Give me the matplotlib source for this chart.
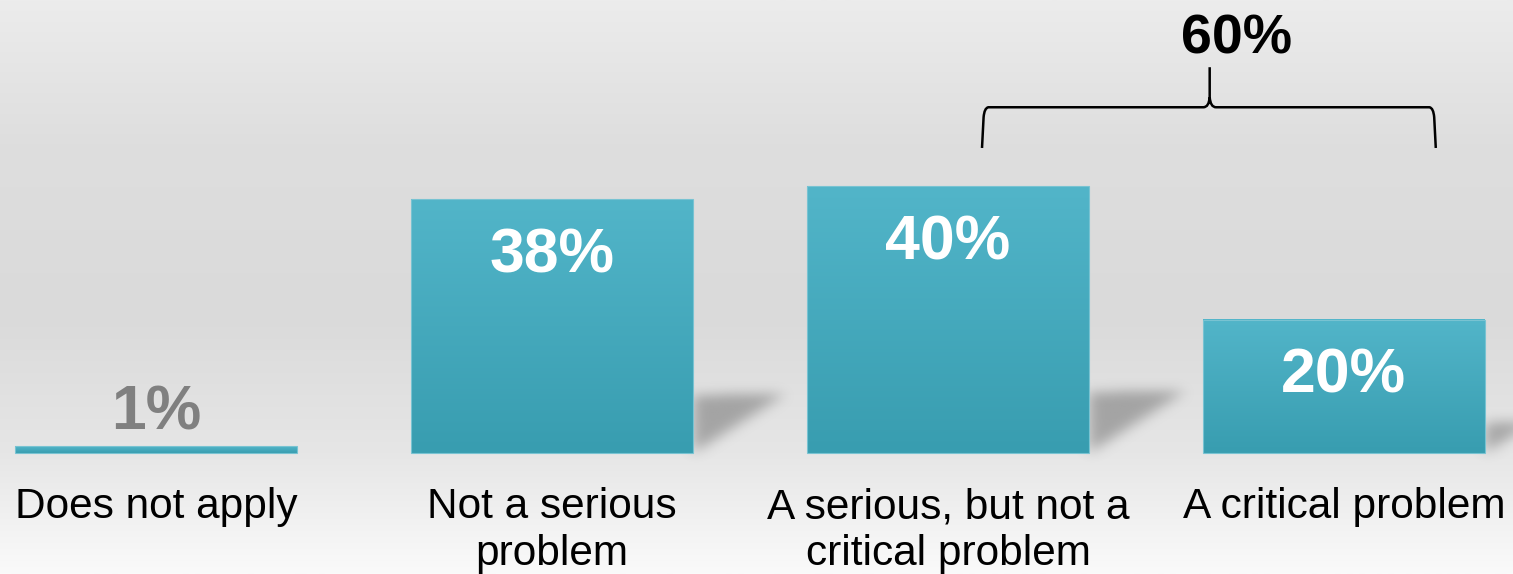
import numpy as np
import matplotlib.pyplot as plt
from matplotlib.colors import LinearSegmentedColormap
from matplotlib.patches import PathPatch
from matplotlib.path import Path

# --- Data ---
categories = ["Does not apply", "Not a serious\nproblem",
              "A serious, but not a\ncritical problem", "A critical problem"]
values = [1, 38, 40, 20]
bracket_label = "60%"

plt.rcParams['font.family'] = ['Liberation Sans', 'DejaVu Sans']

fig = plt.figure(figsize=(15.13, 5.74), dpi=100)
ax = fig.add_axes([0, 0, 1, 1])
XLIM = (-0.394, 3.427)
YLIM = (-18.13, 67.87)
PX_X = 396.0   # pixels per x unit
PX_Y = 6.675   # pixels per y unit


def blur1d(a, sigma, axis):
    r = int(3 * sigma)
    k = np.exp(-0.5 * (np.arange(-r, r + 1) / sigma) ** 2)
    k /= k.sum()
    return np.apply_along_axis(lambda m: np.convolve(m, k, mode="same"), axis, a)


# --- Background gradient ---
bg_cmap = LinearSegmentedColormap.from_list(
    "bg", [(0.0, "#fafafa"), (0.21, "#e6e6e6"), (0.45, "#dadada"),
           (0.75, "#dedede"), (1.0, "#ececec")])
bg = np.linspace(0, 1, 256).reshape(-1, 1)
ax.imshow(bg, extent=[*XLIM, *YLIM], origin="lower", aspect="auto",
          cmap=bg_cmap, zorder=0)

# --- Bars ---
x = np.arange(len(values))
width = 0.712
bar_cmap = LinearSegmentedColormap.from_list("bar", ["#389db0", "#52b5c9"])
bars = ax.bar(x, values, width=width, color="none", edgecolor="#78c3d2",
              linewidth=0.8, zorder=4)

shadow_cmap = LinearSegmentedColormap.from_list(
    "sh", [(0.4, 0.4, 0.4, 0.0), (0.4, 0.4, 0.4, 0.5)])

grad = np.linspace(0, 1, 128).reshape(-1, 1)
for b, v in zip(bars, values):
    x0 = b.get_x()
    x1 = x0 + b.get_width()
    ax.imshow(grad, extent=[x0, x1, 0, v], origin="lower", aspect="auto",
              cmap=bar_cmap, zorder=3)

    # soft blurred shadow to the right of each bar
    if v > 5:
        h = v * 0.229
        L = v * 0.0061
        sx0, sx1 = x1 - 0.06, x1 + L + 0.1
        sy0, sy1 = -4.0, h + 4.0
        nx = int((sx1 - sx0) * PX_X)
        ny = int((sy1 - sy0) * PX_Y)
        gx, gy = np.meshgrid(np.linspace(sx0, sx1, nx), np.linspace(sy0, sy1, ny))
        tri = Path([(x1, 0), (x1, h), (x1 + L, h * 1.02), (x1, 0)])
        mask = tri.contains_points(np.c_[gx.ravel(), gy.ravel()]).reshape(ny, nx)
        mask = mask.astype(float)
        mask = blur1d(blur1d(mask, 6, 0), 7, 1)
        ax.imshow(mask, extent=[sx0, sx1, sy0, sy1], origin="lower",
                  aspect="auto", cmap=shadow_cmap, vmin=0, vmax=1, zorder=2)

# --- Value labels ---
for xi, v in zip(x, values):
    if v > 5:
        ax.text(xi, v - 11.0, f"{v}%", ha="center", va="baseline",
                fontsize=45, fontweight="bold", color="white", zorder=5)
    else:
        ax.text(xi, v + 2.45, f"{v}%", ha="center", va="baseline",
                fontsize=45, fontweight="bold", color="#808080", zorder=5)

# --- Category labels ---
for xi, lab in zip(x, categories):
    for i, line in enumerate(lab.split("\n")):
        ax.text(xi, -9.74 - i * 7.04, line, ha="center", va="baseline",
                fontsize=30.5, color="black", zorder=5)

# --- Bracket over last two bars ---
xl, xr, xm = 2.086, 3.232, 2.661
yb, yh, yp = 45.7, 51.8, 57.8
dx, dy = 0.016, 1.5
verts = [(xl, yb), (xl + 0.004, yh - dy), (xl + 0.006, yh - 0.1), (xl + dx, yh),
         (xm - dx, yh), (xm - 0.002, yh), (xm, yh + dy),
         (xm, yp),
         (xm, yh + dy), (xm + 0.002, yh), (xm + dx, yh),
         (xr - dx, yh), (xr - 0.006, yh - 0.1), (xr - 0.004, yh - dy), (xr, yb)]
codes = [Path.MOVETO, Path.LINETO, Path.CURVE3, Path.CURVE3,
         Path.LINETO, Path.CURVE3, Path.CURVE3,
         Path.LINETO,
         Path.MOVETO, Path.CURVE3, Path.CURVE3,
         Path.LINETO, Path.CURVE3, Path.CURVE3, Path.LINETO]
ax.add_patch(PathPatch(Path(verts, codes), facecolor="none", edgecolor="black",
                       linewidth=1.8, zorder=5))
ax.text(2.73, 59.9, bracket_label, ha="center", va="baseline",
        fontsize=40, fontweight="bold", color="black", zorder=5)

ax.set_xlim(*XLIM)
ax.set_ylim(*YLIM)
ax.axis("off")

fig.savefig("out.png", dpi=100)
